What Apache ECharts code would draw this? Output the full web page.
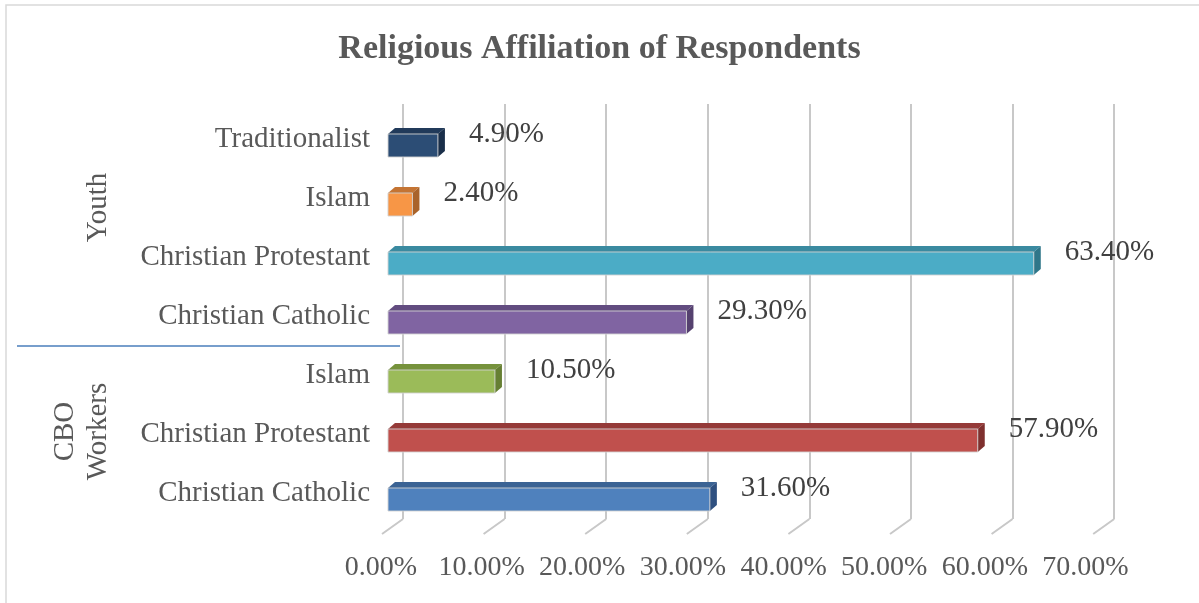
<!DOCTYPE html>
<html>
<head>
<meta charset="utf-8">
<script src="https://cdn.jsdelivr.net/npm/echarts@6/dist/echarts.min.js"></script>
<style>
  html, body { margin: 0; padding: 0; background: #ffffff; }
  #chart { width: 1199px; height: 603px; }
</style>
</head>
<body>
<div id="chart"></div>
<script>
// Categories listed bottom to top (CBO Workers first, then Youth)
const categories = [
  'Christian Catholic', 'Christian Protestant', 'Islam',
  'Christian Catholic', 'Christian Protestant', 'Islam', 'Traditionalist'
];
const groupNames = ['CBO\nWorkers', 'Youth'];
// Share of respondents, in percent
const shares = [31.6, 57.9, 10.5, 29.3, 63.4, 2.4, 4.9];
const tickValues = [0, 10, 20, 30, 40, 50, 60, 70];
const tickLabels = ['0.00%', '10.00%', '20.00%', '30.00%', '40.00%', '50.00%', '60.00%', '70.00%'];

// Face colours of each 3D bar
const frontColors = ['#4f81bd', '#c0504d', '#9bbb59', '#8064a2', '#4bacc6', '#f79646', '#2c4d75'];
const topColors   = ['#3b6394', '#953a38', '#76923c', '#624c80', '#3a8aa0', '#c47433', '#213a5a'];
const sideColors  = ['#2f5080', '#7f302e', '#667f33', '#55416f', '#2f7689', '#a9632b', '#1a2f4a'];

const FONT = "'Liberation Serif', 'Times New Roman', serif";
const DEPTH_X = 7, DEPTH_Y = 6;

const chart = echarts.init(document.getElementById('chart'), null, { renderer: 'canvas' });

const option = {
  backgroundColor: '#ffffff',
  animation: false,
  title: {
    text: 'Religious Affiliation of Respondents',
    left: 'center',
    top: 32,
    padding: 0,
    textStyle: { fontFamily: FONT, fontSize: 34, fontWeight: 'bold', color: '#595959' }
  },
  grid: [
    // front plane of the bars
    { left: 388, width: 713, top: 116, height: 413 },
    // back wall carrying the gridlines
    { left: 403, width: 711.2, top: 104, height: 415 },
    // tick label row
    { left: 381, width: 704.5, top: 116, height: 424 },
    // category label column, raised slightly above the bar centres
    { left: 388, width: 713, top: 110, height: 413 }
  ],
  xAxis: [
    { gridIndex: 0, type: 'value', min: 0, max: 70, interval: 10, show: false },
    {
      gridIndex: 1, type: 'value', min: 0, max: 70, interval: 10,
      axisLine: { show: false }, axisTick: { show: false }, axisLabel: { show: false },
      splitLine: { show: true, lineStyle: { color: '#c8c8c8', width: 2 } }
    },
    {
      gridIndex: 2, type: 'value', min: 0, max: 70, interval: 10,
      axisLine: { show: false }, axisTick: { show: false }, splitLine: { show: false },
      axisLabel: {
        margin: 14,
        fontFamily: FONT, fontSize: 28, color: '#595959',
        formatter: (v) => tickLabels[tickValues.indexOf(v)]
      }
    },
    { gridIndex: 3, type: 'value', min: 0, max: 70, show: false }
  ],
  yAxis: [
    { gridIndex: 0, type: 'category', data: categories, show: false },
    { gridIndex: 1, type: 'value', min: 0, max: 1, show: false },
    { gridIndex: 2, type: 'value', min: 0, max: 1, show: false },
    {
      gridIndex: 3, type: 'category', data: categories,
      axisLine: { show: false }, axisTick: { show: false }, splitLine: { show: false },
      axisLabel: { margin: 18, fontFamily: FONT, fontSize: 29, color: '#595959' }
    }
  ],
  series: [
    {
      // diagonal floor ticks running from the back wall to the front
      type: 'custom',
      xAxisIndex: 1, yAxisIndex: 1,
      data: tickValues.map(v => [v, 0]),
      z: 1,
      renderItem: (params, api) => {
        const p = api.coord([api.value(0), 0]);
        return {
          type: 'line',
          shape: { x1: p[0], y1: p[1], x2: p[0] - 21, y2: p[1] + 15 },
          style: { stroke: '#c8c8c8', lineWidth: 2 }
        };
      }
    },
    {
      // 3D bars with value labels
      type: 'custom',
      xAxisIndex: 0, yAxisIndex: 0,
      data: shares.map((v, i) => [v, i]),
      encode: { x: 0, y: 1 },
      z: 3,
      renderItem: (params, api) => {
        const v = api.value(0);
        const idx = api.value(1);
        const p0 = api.coord([0, idx]);
        const p1 = api.coord([v, idx]);
        const h = api.size([0, 1])[1] * 0.39;
        const x0 = p0[0], x1 = p1[0];
        const top = p0[1] - h / 2, bottom = p0[1] + h / 2;
        return {
          type: 'group',
          children: [
            {
              type: 'polygon',
              shape: { points: [[x0, top], [x0 + DEPTH_X, top - DEPTH_Y], [x1 + DEPTH_X, top - DEPTH_Y], [x1, top]] },
              style: { fill: topColors[idx] }
            },
            {
              type: 'polygon',
              shape: { points: [[x1, top], [x1 + DEPTH_X, top - DEPTH_Y], [x1 + DEPTH_X, bottom - DEPTH_Y], [x1, bottom]] },
              style: { fill: sideColors[idx] }
            },
            {
              type: 'rect',
              shape: { x: x0, y: top, width: x1 - x0, height: h },
              style: { fill: frontColors[idx], stroke: 'rgba(210,210,210,0.9)', lineWidth: 1 }
            },
            {
              type: 'text',
              x: x1 + 31,
              y: p0[1] - 11,
              style: {
                text: v.toFixed(2) + '%',
                fontFamily: FONT, fontSize: 29, fill: '#404040',
                align: 'left', verticalAlign: 'middle'
              }
            }
          ]
        };
      }
    }
  ],
  graphic: [
    {
      type: 'rect', z: 0, silent: true,
      shape: { x: 6, y: 5, width: 1300, height: 700 },
      style: { fill: 'none', stroke: '#d9d9d9', lineWidth: 1.5 }
    },
    {
      type: 'line', silent: true,
      shape: { x1: 17, y1: 346, x2: 400, y2: 346 },
      style: { stroke: '#4a7ebb', lineWidth: 1.5 }
    },
    {
      type: 'text', silent: true,
      x: 98.5, y: 207.5, rotation: Math.PI / 2,
      style: {
        text: groupNames[1], fontFamily: FONT, fontSize: 29, fill: '#595959',
        align: 'center', verticalAlign: 'middle'
      }
    },
    {
      type: 'text', silent: true,
      x: 82, y: 431.5, rotation: Math.PI / 2,
      style: {
        text: groupNames[0], fontFamily: FONT, fontSize: 29, fill: '#595959',
        lineHeight: 33, align: 'center', verticalAlign: 'middle'
      }
    }
  ]
};

chart.setOption(option);
</script>
</body>
</html>
